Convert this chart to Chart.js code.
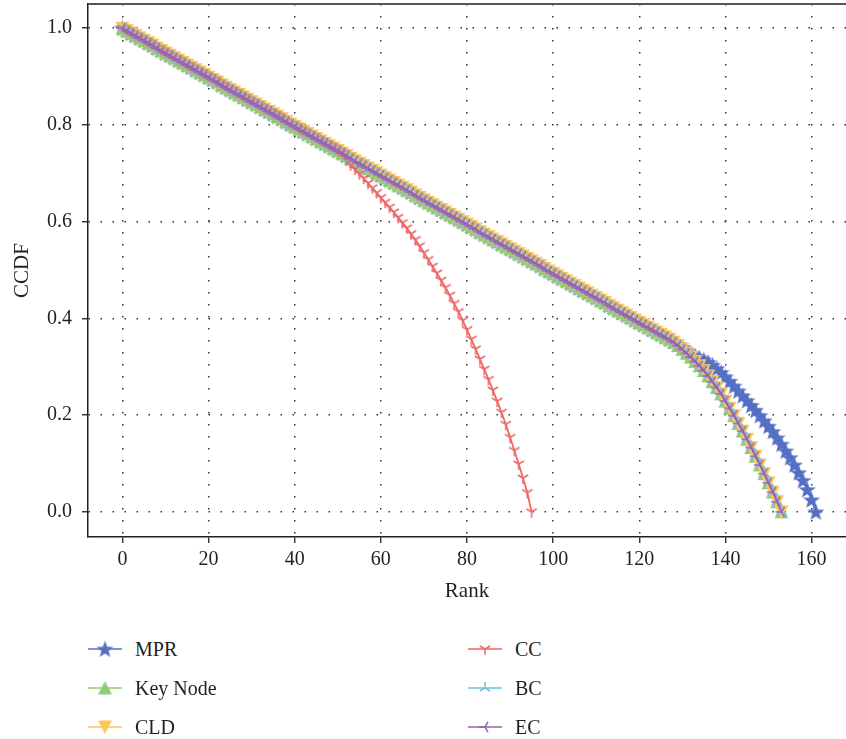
<!DOCTYPE html>
<html>
<head>
<meta charset="utf-8">
<script src="https://cdn.jsdelivr.net/npm/chart.js@4.4.0/dist/chart.umd.min.js"></script>
<style>
  html, body { margin: 0; padding: 0; background: #fff; }
  #wrap { position: relative; width: 846px; height: 739px; overflow: hidden; }
  #box { position: absolute; left: 0; top: 0; width: 846px; height: 612px; }
  .item { position: absolute; height: 24px; display: flex; align-items: center;
          font-family: "Liberation Serif", serif; font-size: 20px; color: #231f20; }
  .item canvas { margin-right: 13px; }
</style>
</head>
<body>
<div id="wrap">
  <div id="box"><canvas id="chart"></canvas></div>
  <div id="legend"></div>
</div>
<script>
// ranks 0-127, where all curves but CC run together
const shared = [
  1.000, 0.995, 0.990, 0.985, 0.980, 0.975, 0.970, 0.965, 0.959, 0.954,
  0.949, 0.944, 0.939, 0.934, 0.929, 0.924, 0.919, 0.914, 0.909, 0.904,
  0.899, 0.894, 0.889, 0.883, 0.878, 0.873, 0.868, 0.863, 0.858, 0.853,
  0.848, 0.843, 0.838, 0.833, 0.828, 0.823, 0.818, 0.813, 0.807, 0.802,
  0.797, 0.792, 0.787, 0.782, 0.777, 0.772, 0.767, 0.762, 0.757, 0.752,
  0.747, 0.742, 0.737, 0.731, 0.726, 0.721, 0.716, 0.711, 0.706, 0.701,
  0.696, 0.691, 0.686, 0.681, 0.676, 0.671, 0.666, 0.661, 0.655, 0.650,
  0.645, 0.640, 0.635, 0.630, 0.625, 0.620, 0.615, 0.610, 0.605, 0.600,
  0.595, 0.590, 0.585, 0.579, 0.574, 0.569, 0.564, 0.559, 0.554, 0.549,
  0.544, 0.539, 0.534, 0.529, 0.524, 0.519, 0.514, 0.509, 0.503, 0.498,
  0.493, 0.488, 0.483, 0.478, 0.473, 0.468, 0.463, 0.458, 0.453, 0.448,
  0.443, 0.438, 0.433, 0.427, 0.422, 0.417, 0.412, 0.407, 0.402, 0.397,
  0.392, 0.387, 0.382, 0.377, 0.372, 0.367, 0.362, 0.357
];
// ranks 128-153 (Key Node, CLD, BC, EC)
const mainTail = [
  0.351, 0.344, 0.336, 0.328, 0.320, 0.311, 0.302, 0.292, 0.281, 0.269,
  0.257, 0.244, 0.229, 0.214, 0.199, 0.183, 0.167, 0.150, 0.133, 0.115,
  0.097, 0.079, 0.060, 0.041, 0.021, 0.000
];
// ranks 128-161 (MPR)
const mprTail = [
  0.352, 0.346, 0.340, 0.333, 0.327, 0.322, 0.318, 0.314, 0.309, 0.303,
  0.296, 0.288, 0.279, 0.270, 0.260, 0.250, 0.240, 0.230, 0.220, 0.210,
  0.199, 0.188, 0.177, 0.166, 0.153, 0.140, 0.126, 0.112, 0.097, 0.081,
  0.065, 0.046, 0.025, 0.000
];
// ranks 52-95 (CC)
const ccTail = [
  0.728, 0.718, 0.709, 0.699, 0.690, 0.680, 0.670, 0.660, 0.650, 0.640,
  0.630, 0.620, 0.609, 0.598, 0.587, 0.575, 0.563, 0.550, 0.536, 0.522,
  0.508, 0.494, 0.479, 0.464, 0.448, 0.431, 0.414, 0.396, 0.377, 0.357,
  0.337, 0.316, 0.295, 0.274, 0.252, 0.229, 0.206, 0.181, 0.154, 0.127,
  0.099, 0.070, 0.040, 0.000
];

const seriesNames = ['MPR', 'Key Node', 'CLD', 'CC', 'BC', 'EC'];
const seriesColors = ['#5470c6', '#91cc75', '#fac858', '#ee6666', '#73c0de', '#9a60b4'];
const seriesValues = [
  shared.concat(mprTail),
  shared.concat(mainTail),
  shared.concat(mainTail),
  shared.slice(0, 52).concat(ccTail),
  shared.concat(mainTail),
  shared.concat(mainTail)
];
const xTicks = [0, 20, 40, 60, 80, 100, 120, 140, 160];
const yTicks = [0, 0.2, 0.4, 0.6, 0.8, 1.0];

const FONT = '"Liberation Serif", serif';
const INK = '#231f20';

// marker images
function makeMarker(kind, color) {
  const c = document.createElement('canvas');
  const s = kind === 'star' ? 19 : (kind === 'up' || kind === 'down') ? 15 : 14;
  c.width = s; c.height = s;
  const g = c.getContext('2d');
  const m = s / 2;
  g.fillStyle = color;
  g.strokeStyle = color;
  if (kind === 'star') {
    g.beginPath();
    for (let i = 0; i < 10; i++) {
      const r = i % 2 === 0 ? 9 : 3.8;
      const a = -Math.PI / 2 + i * Math.PI / 5;
      g.lineTo(m + r * Math.cos(a), m + 0.7 + r * Math.sin(a));
    }
    g.closePath();
    g.fill();
  } else if (kind === 'up') {
    g.beginPath();
    g.moveTo(m, 0.5); g.lineTo(s - 0.5, s - 1); g.lineTo(0.5, s - 1);
    g.closePath(); g.fill();
  } else if (kind === 'down') {
    g.beginPath();
    g.moveTo(0.5, 1); g.lineTo(s - 0.5, 1); g.lineTo(m, s - 0.5);
    g.closePath(); g.fill();
  } else {
    // tri markers: arm angles in degrees (0 = right, 90 = down)
    const arms = { triDown: [90, 210, 330], triUp: [270, 30, 150], triLeft: [180, 300, 60] }[kind];
    g.lineWidth = 1.5;
    g.beginPath();
    arms.forEach(d => {
      const a = d * Math.PI / 180;
      g.moveTo(m, m);
      g.lineTo(m + 6 * Math.cos(a), m + 6 * Math.sin(a));
    });
    g.stroke();
  }
  return c;
}

const markerKinds = ['star', 'up', 'down', 'triDown', 'triUp', 'triLeft'];
const markers = markerKinds.map((k, i) => makeMarker(k, seriesColors[i]));

const datasets = seriesNames.map((name, i) => ({
  label: name,
  data: seriesValues[i].map((v, r) => ({ x: r, y: v })),
  borderColor: seriesColors[i],
  backgroundColor: seriesColors[i],
  borderWidth: 1.8,
  pointStyle: markers[i],
  pointRadius: 5,
  pointHoverRadius: 5,
  tension: 0,
  fill: false,
  order: seriesNames.length - i   // later series drawn on top
}));

const frame = {
  id: 'frame',
  afterDraw(chart) {
    const { ctx, chartArea } = chart;
    ctx.save();
    ctx.strokeStyle = '#555';
    ctx.lineWidth = 2;
    ctx.beginPath();
    ctx.moveTo(chartArea.left, chartArea.top);
    ctx.lineTo(chartArea.right, chartArea.top);
    ctx.stroke();
    ctx.restore();
  }
};

const gridOpts = {
  color: '#333',
  lineWidth: 1.5,
  tickLength: 6,
  tickColor: INK,
  tickWidth: 1.3,
  tickBorderDash: []
};
const borderOpts = { display: true, color: INK, width: 1.5, dash: [1.5, 10.5] };

new Chart(document.getElementById('chart').getContext('2d'), {
  type: 'line',
  data: { datasets: datasets },
  plugins: [frame],
  options: {
    responsive: true,
    maintainAspectRatio: false,
    animation: false,
    layout: { autoPadding: false, padding: { top: 4, left: 0, right: 0, bottom: 0 } },
    plugins: { legend: { display: false }, tooltip: { enabled: false } },
    scales: {
      x: {
        type: 'linear',
        min: -8,
        max: 168,
        afterBuildTicks: (s) => { s.ticks = xTicks.map(v => ({ value: v })); },
        afterFit: (s) => { s.height = 612 - 537; s.paddingLeft = 0; s.paddingRight = 0; },
        ticks: { color: INK, font: { family: FONT, size: 20 }, padding: 5, maxRotation: 0 },
        grid: gridOpts,
        border: borderOpts,
        title: { display: true, text: 'Rank', color: INK, font: { family: FONT, size: 21 }, padding: { top: 8, bottom: 8 } }
      },
      y: {
        type: 'linear',
        min: -0.052,
        max: 1.05,
        afterBuildTicks: (s) => { s.ticks = yTicks.map(v => ({ value: v })); },
        afterFit: (s) => { s.width = 88; s.paddingTop = 0; s.paddingBottom = 0; },
        ticks: { color: INK, font: { family: FONT, size: 20 }, padding: 10, callback: v => v.toFixed(1) },
        grid: gridOpts,
        border: borderOpts,
        title: { display: true, text: 'CCDF', color: INK, font: { family: FONT, size: 21 }, padding: { top: 10, bottom: 0 } }
      }
    }
  }
});

// legend, two columns filled top to bottom
const legendEl = document.getElementById('legend');
const colX = [88, 468];
const rowY = [649, 688, 727];
seriesNames.forEach((name, i) => {
  const item = document.createElement('div');
  item.className = 'item';
  item.style.left = colX[Math.floor(i / 3)] + 'px';
  item.style.top = (rowY[i % 3] - 12) + 'px';
  const c = document.createElement('canvas');
  c.width = 34; c.height = 24;
  const g = c.getContext('2d');
  g.strokeStyle = seriesColors[i];
  g.lineWidth = 1.5;
  g.beginPath(); g.moveTo(0, 12); g.lineTo(34, 12); g.stroke();
  const mk = markers[i];
  g.drawImage(mk, 17 - mk.width / 2, 12 - mk.height / 2);
  item.appendChild(c);
  const t = document.createElement('span');
  t.textContent = name;
  item.appendChild(t);
  legendEl.appendChild(item);
});
</script>
</body>
</html>
